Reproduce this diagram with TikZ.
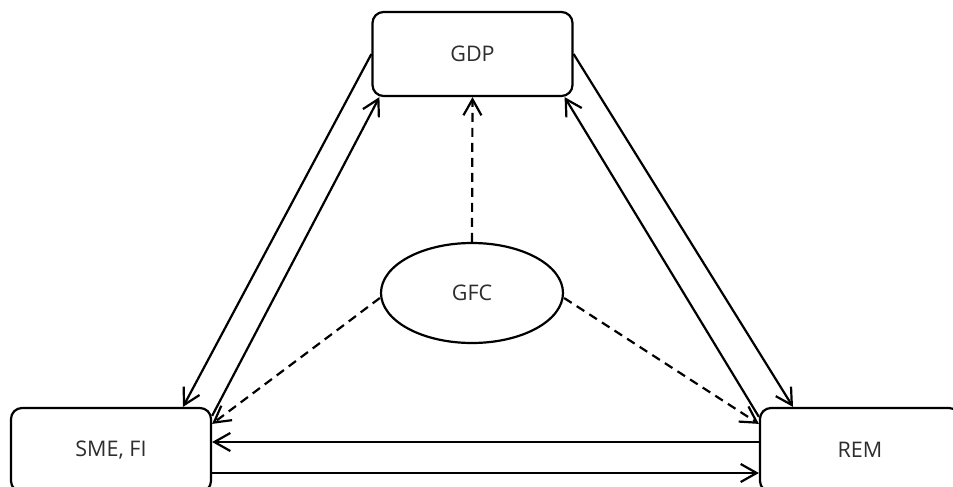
\documentclass[tikz,border=0pt]{standalone}
\usepackage{fontspec}
\setmainfont{Open Sans}
\usetikzlibrary{arrows.meta,shapes.geometric}
\definecolor{txt}{RGB}{45,45,45}
\begin{document}
\begin{tikzpicture}[x=1pt,y=-1pt,line width=2.2pt,
  box/.style={draw,rectangle,rounded corners=11pt,minimum width=200pt,minimum height=84pt,inner sep=0pt,font=\fontsize{21.5}{26}\selectfont,text=txt},
  oval/.style={draw,ellipse,minimum width=182pt,minimum height=100pt,inner sep=0pt,font=\fontsize{21.5}{26}\selectfont,text=txt},
  arr/.style={-{Straight Barb[length=16pt,width=18pt]}},
  dsh/.style={arr,dash pattern=on 9pt off 6pt}]
\clip (0,0) rectangle (953,487);
\fill[white] (0,0) rectangle (953,487);
\node[box] (gdp) at (472.5,54) {GDP};
\node[oval] (gfc) at (472,293) {GFC};
\node[box] (sme) at (111,450) {SME, FI};
\node[box] (rem) at (860,450) {REM};
% solid connectors
\draw[arr] (gdp.west) -- ([xshift=72pt]sme.north);
\draw[arr] ([yshift=-9pt]sme.north east) -- ([xshift=8pt]gdp.south west);
\draw[arr] (gdp.east) -- ([xshift=-67pt]rem.north);
\draw[arr] ([yshift=-10pt]rem.north west) -- ([xshift=-9pt]gdp.south east);
\draw[arr] ([yshift=8pt]rem.west) -- ([yshift=8pt]sme.east);
\draw[arr] ([yshift=-23pt]sme.east) -- ([yshift=-23pt]rem.west);
% dashed connectors
\draw[dsh] (gfc.north) -- (gdp.south);
\draw[dsh] ([yshift=-5pt]gfc.west) -- ([yshift=-17pt]sme.north east);
\draw[dsh] ([yshift=-5pt]gfc.east) -- ([yshift=-17pt]rem.north west);
\end{tikzpicture}
\end{document}
